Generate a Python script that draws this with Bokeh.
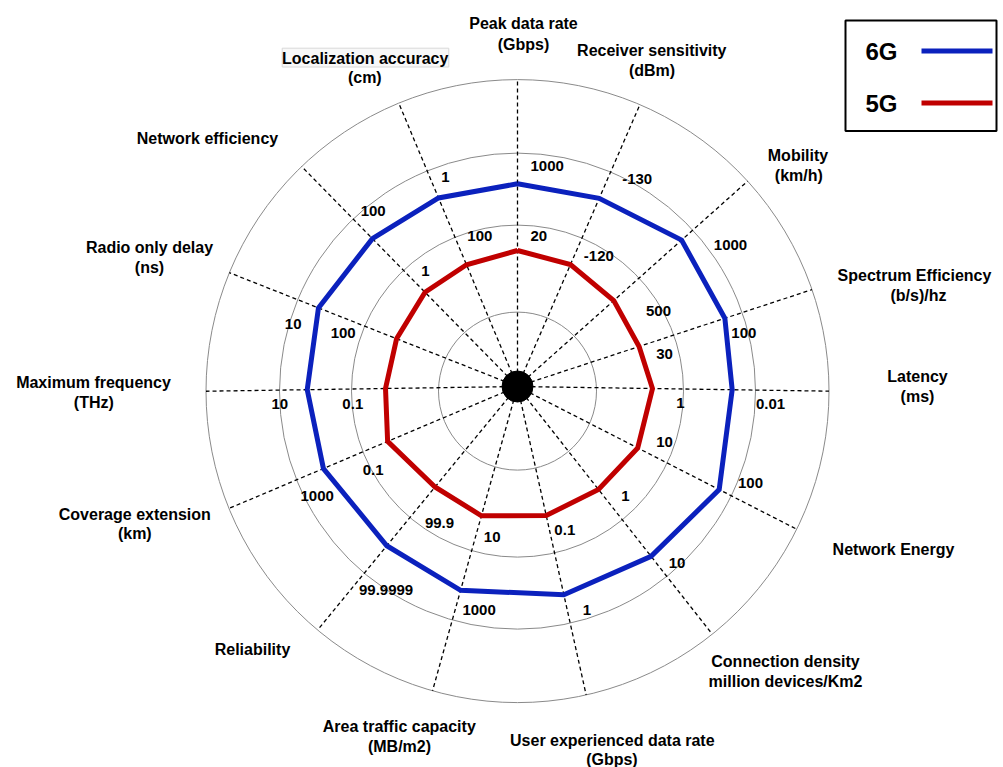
import math
from bokeh.plotting import figure
from bokeh.models import Range1d
from bokeh.core.properties import value
from bokeh.embed import file_html
from bokeh.resources import INLINE

# ---------------- data ----------------
axis_names = [
    ["Peak data rate", "(Gbps)"],
    ["Receiver sensitivity", "(dBm)"],
    ["Mobility", "(km/h)"],
    ["Spectrum Efficiency", "(b/s)/hz"],
    ["Latency", "(ms)"],
    ["Network Energy"],
    ["Connection density", "million devices/Km2"],
    ["User experienced data rate", "(Gbps)"],
    ["Area traffic capacity", "(MB/m2)"],
    ["Reliability"],
    ["Coverage extension", "(km)"],
    ["Maximum frequency", "(THz)"],
    ["Radio only delay", "(ns)"],
    ["Network efficiency"],
    ["Localization accuracy", "(cm)"],
]
labels_6g = ["1000", "-130", "1000", "100", "0.01", "100", "10", "1", "1000",
             "99.9999", "1000", "10", "10", "100", "1"]
labels_5g = ["20", "-120", "500", "30", "1", "10", "1", "0.1", "10",
             "99.9", "0.1", "0.1", "100", "1", "100"]
# plotted radius of each vertex (chart score, outer ring = 311.5)
score_6g = [202.7, 205.1, 219.9, 218.3, 214.7, 226.5, 216.1, 213.3, 211.6,
            206.0, 210.7, 210.3, 214.0, 207.2, 204.4]
score_5g = [136.0, 133.0, 129.0, 128.0, 135.0, 135.0, 131.0, 132.2, 134.2,
            130.0, 141.0, 132.0, 130.0, 132.0, 132.0]
ring_scores = [79, 166, 238, 311.5]
series_names = ["6G", "5G"]

# ---------------- layout ----------------
axis_angles = [90, 66.53, 41.74, 18.21, -0.86, -27.07, -51.82, -77.45, -105.6,
               -129.38, -157.09, -179.13, 158.45, 134.46, 112.73]
CX, CY = 517.0, 386.0          # image position of the hub
RING_DY = -4.6                 # rings are centred slightly lower


def px(x, y):
    return x - CX, CY - y


name_pos = [
    [(523, 23), (523, 43.5)],
    [(651.3, 49.5), (651.5, 69.5)],
    [(797.5, 155), (798.3, 175)],
    [(914, 274.5), (918, 295)],
    [(917, 376), (917, 396)],
    [(893, 549)],
    [(785, 661), (785, 681)],
    [(611.8, 739.5), (611.4, 759)],
    [(398.8, 726), (399, 746)],
    [(252, 649)],
    [(134.3, 513.5), (134.3, 533)],
    [(93, 381.5), (93.3, 402)],
    [(149, 246.5), (149, 266.5)],
    [(207, 138)],
    [(364.7, 57.5), (364.3, 76.5)],
]
pos_6g = [(546.7, 165), (636.7, 178.3), (730, 244.3), (743.3, 332.7), (770, 403.3),
          (750, 482.7), (676.5, 562.7), (586.5, 609.3), (478.6, 609.3), (385.6, 589.3),
          (316.7, 495.7), (279.3, 403.3), (292.7, 323.3), (372.7, 210.7), (445, 176)]
pos_5g = [(538.3, 235), (598.3, 255), (658, 310), (664, 353), (680, 402),
          (664, 441), (625, 495), (564.3, 529.3), (491.7, 536), (439, 522),
          (372.7, 469.3), (352.3, 403.3), (342.7, 332.7), (425, 270), (479.3, 235)]

W, H = 1003, 767
p = figure(width=W, height=H, output_backend="svg", toolbar_location=None,
           x_range=Range1d(0 - CX, W - CX), y_range=Range1d(CY - H, CY),
           min_border=0)
p.axis.visible = False
p.grid.visible = False
p.outline_line_color = None
p.background_fill_color = "white"

FONT = value("Liberation Sans")

# rings
p.circle(x=[0] * len(ring_scores), y=[RING_DY] * len(ring_scores), radius=ring_scores,
         fill_color=None, line_color="#8a8a8a", line_width=1)

# spokes to outer ring
R = ring_scores[-1]
x1, y1 = [], []
for a in axis_angles:
    c, s = math.cos(math.radians(a)), math.sin(math.radians(a))
    dc = s * RING_DY
    t = dc + math.sqrt(dc * dc - RING_DY * RING_DY + R * R)
    x1.append(t * c)
    y1.append(t * s)
p.segment(x0=[0] * len(x1), y0=[0] * len(y1), x1=x1, y1=y1,
          line_color="black", line_width=1.3, line_dash="4 3")


def poly(scores):
    xs = [r * math.cos(math.radians(a)) for r, a in zip(scores, axis_angles)]
    ys = [r * math.sin(math.radians(a)) for r, a in zip(scores, axis_angles)]
    return xs + xs[:1], ys + ys[:1]


colors = {"6G": "#0b21bd", "5G": "#c00000"}
for name, sc in zip(series_names, [score_6g, score_5g]):
    xs, ys = poly(sc)
    p.line(xs, ys, line_color=colors[name], line_width=5, line_join="miter")

# hub
p.circle(x=[0], y=[0], radius=15.5, fill_color="black", line_color="black")

# localization label box
bx0, by0 = px(281.7, 47.7)
bx1, by1 = px(448.3, 66.5)
p.quad(left=[bx0], right=[bx1], top=[by0], bottom=[by1],
       fill_color="#f8f8f8", line_color="#d8d8d8", line_width=1)

# axis names
tx, ty, tt = [], [], []
for lines, poss in zip(axis_names, name_pos):
    for ln, (x, y) in zip(lines, poss):
        a, b = px(x, y)
        tx.append(a); ty.append(b); tt.append(ln)
p.text(x=tx, y=ty, text=tt, text_font=FONT, text_font_style="bold",
       text_font_size="16px", text_align="center", text_baseline="middle",
       text_color="black")

# value labels
for labs, poss in [(labels_6g, pos_6g), (labels_5g, pos_5g)]:
    vx = [px(x, y)[0] for x, y in poss]
    vy = [px(x, y)[1] for x, y in poss]
    p.text(x=vx, y=vy, text=labs, text_font=FONT, text_font_style="bold",
           text_font_size="15px", text_align="center", text_baseline="middle",
           text_color="black")

# legend
lx0, ly0 = px(845, 20)
lx1, ly1 = px(996, 130.5)
p.quad(left=[lx0], right=[lx1], top=[ly0], bottom=[ly1],
       fill_color="white", line_color="black", line_width=2)
for name, yy in zip(series_names, [50.5, 102.5]):
    a, b = px(881, yy)
    p.text(x=[a], y=[b], text=[name], text_font=FONT, text_font_style="bold",
           text_font_size="24px", text_align="center", text_baseline="middle",
           text_color="black")
    s0, sy = px(921, yy)
    s1, _ = px(992, yy)
    p.segment(x0=[s0], y0=[sy], x1=[s1], y1=[sy], line_color=colors[name], line_width=5)

open("out.html", "w").write(file_html(p, INLINE))
